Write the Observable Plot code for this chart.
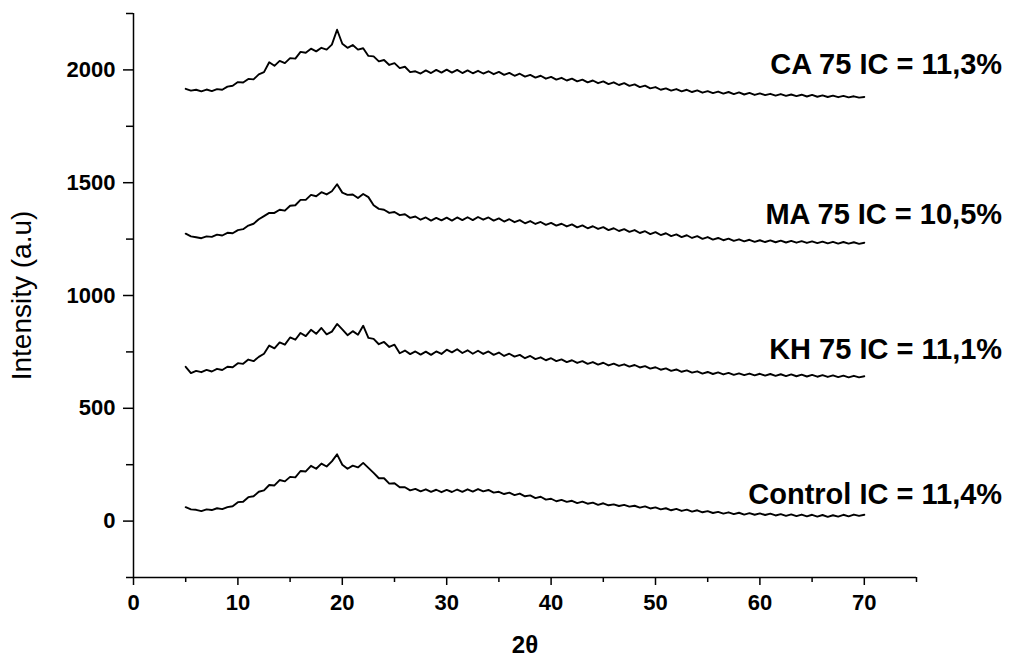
<!DOCTYPE html>
<html>
<head>
<meta charset="utf-8">
<script src="https://cdn.jsdelivr.net/npm/d3@7"></script>
<script src="https://cdn.jsdelivr.net/npm/@observablehq/plot@0.6"></script>
<style>
  html, body { margin: 0; padding: 0; background: #fff; }
</style>
</head>
<body>
<div id="chart"></div>
<script>
// 2θ sampling grid (degrees)
const twoTheta = [
  5, 5.5, 6, 6.5, 7, 7.5, 8, 8.5, 9, 9.5,
  10, 10.5, 11, 11.5, 12, 12.5, 13, 13.5, 14, 14.5,
  15, 15.5, 16, 16.5, 17, 17.5, 18, 18.5, 19, 19.5,
  20, 20.5, 21, 21.5, 22, 22.5, 23, 23.5, 24, 24.5,
  25, 25.5, 26, 26.5, 27, 27.5, 28, 28.5, 29, 29.5,
  30, 30.5, 31, 31.5, 32, 32.5, 33, 33.5, 34, 34.5,
  35, 35.5, 36, 36.5, 37, 37.5, 38, 38.5, 39, 39.5,
  40, 40.5, 41, 41.5, 42, 42.5, 43, 43.5, 44, 44.5,
  45, 45.5, 46, 46.5, 47, 47.5, 48, 48.5, 49, 49.5,
  50, 50.5, 51, 51.5, 52, 52.5, 53, 53.5, 54, 54.5,
  55, 55.5, 56, 56.5, 57, 57.5, 58, 58.5, 59, 59.5,
  60, 60.5, 61, 61.5, 62, 62.5, 63, 63.5, 64, 64.5,
  65, 65.5, 66, 66.5, 67, 67.5, 68, 68.5, 69, 69.5,
  70
];

// Intensity (a.u)
const controlIC = [
  62, 52, 50, 44, 52, 49, 57, 53, 62, 66,
  84, 86, 106, 110, 130, 136, 160, 158, 182, 176,
  196, 194, 222, 220, 245, 232, 255, 242, 265, 296,
  250, 232, 246, 238, 258, 236, 214, 190, 190, 166,
  168, 150, 150, 136, 143, 132, 141, 130, 139, 128,
  138, 129, 140, 130, 141, 131, 142, 132, 138, 126,
  130, 120, 126, 115, 122, 110, 114, 102, 108, 95,
  99, 88, 94, 85, 90, 80, 86, 77, 82, 72,
  79, 70, 74, 67, 72, 64, 68, 60, 65, 56,
  61, 52, 57, 48, 54, 45, 51, 42, 48, 39,
  44, 36, 41, 33, 39, 31, 37, 29, 35, 28,
  34, 27, 33, 25, 31, 23, 30, 22, 29, 21,
  28, 20, 27, 19, 26, 20, 28, 21, 29, 23,
  28
];

const kh75 = [
  684, 656, 666, 660, 670, 663, 675, 670, 684, 682,
  700, 697, 716, 709, 728, 742, 778, 766, 792, 782,
  814, 804, 834, 820, 848, 830, 856, 828, 840, 874,
  850, 824, 842, 826, 866, 812, 808, 784, 794, 772,
  782, 744, 756, 740, 752, 738, 751, 737, 752, 741,
  760, 748, 762, 745, 757, 742, 755, 741, 752, 737,
  747, 732, 742, 729, 737, 722, 732, 718, 726, 713,
  722, 709, 717, 705, 713, 701, 709, 697, 705, 694,
  702, 690, 698, 688, 695, 685, 692, 681, 687, 676,
  682, 671, 677, 666, 672, 662, 668, 658, 664, 654,
  661, 652, 659, 650, 657, 648, 655, 647, 654, 646,
  653, 645, 652, 644, 651, 643, 650, 642, 649, 641,
  648, 640, 647, 639, 646, 638, 645, 637, 644, 637,
  642
];

const ma75 = [
  1274, 1262, 1258, 1254, 1262, 1260, 1270, 1266, 1278, 1276,
  1290, 1294, 1310, 1318, 1338, 1352, 1366, 1366, 1380, 1376,
  1398, 1400, 1424, 1424, 1446, 1440, 1458, 1448, 1462, 1493,
  1456, 1446, 1448, 1432, 1450, 1436, 1400, 1384, 1380, 1366,
  1370, 1356, 1360, 1344, 1350, 1336, 1346, 1332, 1344, 1333,
  1345, 1332, 1346, 1334, 1347, 1334, 1348, 1336, 1346, 1332,
  1342, 1328, 1338, 1325, 1334, 1320, 1330, 1317, 1326, 1313,
  1322, 1310, 1318, 1306, 1315, 1302, 1311, 1298, 1307, 1295,
  1303, 1290, 1298, 1286, 1294, 1282, 1290, 1277, 1285, 1272,
  1281, 1268, 1276, 1263, 1271, 1259, 1267, 1255, 1263, 1251,
  1259, 1248, 1255, 1245, 1252, 1242, 1249, 1240, 1247, 1238,
  1245, 1237, 1244, 1236, 1243, 1235, 1242, 1234, 1241, 1233,
  1240, 1232, 1239, 1231, 1238, 1230, 1237, 1230, 1236, 1229,
  1234
];

const ca75 = [
  1916, 1908, 1912, 1905, 1913, 1906, 1915, 1912, 1926, 1930,
  1946, 1944, 1960, 1958, 1980, 1990, 2034, 2018, 2040, 2030,
  2052, 2050, 2080, 2076, 2094, 2082, 2098, 2090, 2112, 2178,
  2116, 2098, 2110, 2090, 2096, 2062, 2060, 2038, 2044, 2022,
  2030, 2008, 2014, 1990, 1994, 1984, 1998, 1986, 2000, 1988,
  2001, 1988, 2000, 1986, 1998, 1985, 1996, 1984, 1994, 1981,
  1991, 1978, 1987, 1974, 1983, 1970, 1978, 1966, 1974, 1961,
  1969, 1957, 1965, 1953, 1961, 1949, 1957, 1945, 1953, 1941,
  1949, 1937, 1945, 1933, 1941, 1929, 1936, 1924, 1930, 1918,
  1924, 1912, 1918, 1908, 1915, 1905, 1912, 1902, 1909, 1899,
  1906, 1897, 1904, 1895, 1902, 1893, 1900, 1891, 1898, 1889,
  1896, 1888, 1894, 1886, 1893, 1885, 1891, 1884, 1890, 1882,
  1889, 1881, 1887, 1880, 1886, 1879, 1885, 1878, 1883, 1877,
  1880
];

const seriesNames = ["Control", "KH 75", "MA 75", "CA 75"];
const seriesValues = [controlIC, kh75, ma75, ca75];

const labelTexts = ["Control IC = 11,4%", "KH 75 IC = 11,1%", "MA 75 IC = 10,5%", "CA 75 IC = 11,3%"];
const labelY = [118, 761, 1359, 2023];

const xTicks = [0, 10, 20, 30, 40, 50, 60, 70];
const xMinor = [5, 15, 25, 35, 45, 55, 65, 75];
const yTicks = [0, 500, 1000, 1500, 2000];
const yMinor = [-250, 250, 750, 1250, 1750, 2250];

const rows = seriesNames.flatMap((name, k) =>
  twoTheta.map((t, i) => ({x: t, y: seriesValues[k][i], s: name}))
);
const labelRows = labelTexts.map((t, i) => ({text: t, y: labelY[i]}));

const font = "Liberation Sans, Arial, sans-serif";

const chart = Plot.plot({
  width: 1012,
  height: 666,
  marginLeft: 133,
  marginRight: 96,
  marginTop: 13,
  marginBottom: 89,
  style: {background: "white", fontFamily: font, color: "black"},
  x: {domain: [0, 75]},
  y: {domain: [-250, 2250]},
  marks: [
    Plot.ruleY([-250], {stroke: "black", strokeWidth: 1.5}),
    Plot.ruleX([0], {stroke: "black", strokeWidth: 1.5}),
    Plot.axisX(xTicks, {anchor: "bottom", tickSize: 8, tickPadding: 9, fontSize: 22, fontWeight: "bold", label: null, strokeWidth: 1.5, tickFormat: d => String(d)}),
    Plot.axisX(xMinor, {anchor: "bottom", tickSize: 5, tickFormat: () => "", label: null, strokeWidth: 1.5}),
    Plot.axisY(yTicks, {anchor: "left", tickSize: 10, tickPadding: 8, fontSize: 22, fontWeight: "bold", label: null, strokeWidth: 1.5, tickFormat: d => String(d)}),
    Plot.axisY(yMinor, {anchor: "left", tickSize: 7, tickFormat: () => "", label: null, strokeWidth: 1.5}),
    Plot.line(rows, {x: "x", y: "y", z: "s", stroke: "black", strokeWidth: 1.9}),
    Plot.text(labelRows, {x: 83.2, y: "y", text: "text", textAnchor: "end", fontSize: 29, fontWeight: "bold", fill: "black"}),
    Plot.text(["Intensity (a.u)"], {frameAnchor: "left", textAnchor: "middle", lineAnchor: "middle", rotate: -90, dx: -111, fontSize: 28, fill: "black"}),
    Plot.text(["2θ"], {frameAnchor: "bottom", textAnchor: "middle", lineAnchor: "middle", dy: 68, fontSize: 24, fontWeight: "bold", fill: "black"})
  ]
});

document.getElementById("chart").appendChild(chart);
</script>
</body>
</html>
